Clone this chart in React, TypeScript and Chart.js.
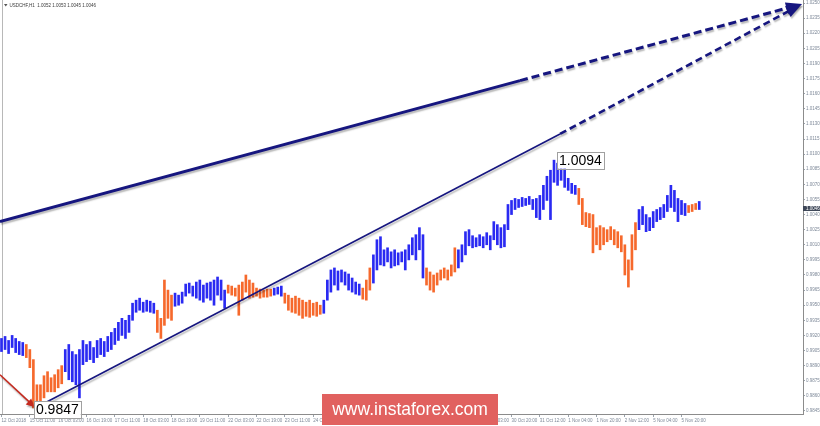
import React, { useEffect, useRef } from "react";
import { Chart, registerables } from "chart.js";

Chart.register(...registerables);

const symbolTitle = "USDCHF,H1  1.0052 1.0053 1.0045 1.0046";
const lastClose = 1.0046;

const timeLabels = [
  "12 Oct 2018", "15 Oct 11:00", "16 Oct 03:00", "16 Oct 19:00", "17 Oct 11:00",
  "18 Oct 03:00", "18 Oct 19:00", "19 Oct 11:00", "22 Oct 03:00", "22 Oct 19:00",
  "23 Oct 11:00", "24 Oct 03:00", "24 Oct 19:00", "25 Oct 11:00", "26 Oct 03:00",
  "26 Oct 19:00", "29 Oct 11:00", "30 Oct 03:00", "30 Oct 20:00", "31 Oct 12:00",
  "1 Nov 04:00", "1 Nov 20:00", "2 Nov 12:00", "5 Nov 04:00", "5 Nov 20:00",
];
const hoursPerLabel = 16;
const hoursPerBar = 2;

const priceTicks = [
  0.9845, 0.986, 0.9875, 0.989, 0.9905, 0.992, 0.9935, 0.995, 0.9965, 0.998,
  0.9995, 1.001, 1.0025, 1.004, 1.0055, 1.007, 1.0085, 1.01, 1.0115, 1.013,
  1.0145, 1.016, 1.0175, 1.019, 1.0205, 1.022, 1.0235, 1.025,
];

const highs = [
  0.9917, 0.9919, 0.9915, 0.992, 0.9917, 0.9914, 0.9913, 0.9911, 0.9906, 0.9896,
  0.9871, 0.9871, 0.988, 0.9884, 0.9878, 0.9881, 0.9886, 0.989, 0.9906, 0.9911,
  0.9904, 0.9901, 0.9906, 0.9915, 0.9911, 0.9914, 0.9908, 0.9915, 0.9917, 0.9914,
  0.9919, 0.9923, 0.9927, 0.9933, 0.9937, 0.9935, 0.994, 0.9952, 0.9955, 0.9957,
  0.9953, 0.9955, 0.9954, 0.9952, 0.9945, 0.9937, 0.9975, 0.9965, 0.996, 0.9962,
  0.996, 0.9963, 0.9971, 0.9972, 0.9969, 0.9973, 0.9975, 0.997, 0.9972, 0.9973,
  0.9975, 0.9978, 0.9975, 0.9965, 0.997, 0.9969, 0.9967, 0.997, 0.9973, 0.998,
  0.9975, 0.9972, 0.9967, 0.9966, 0.9965, 0.9966, 0.9966, 0.9967, 0.9968, 0.9969,
  0.9962, 0.996, 0.9957, 0.9959, 0.9957, 0.9955, 0.9953, 0.9955, 0.9952, 0.9953,
  0.995, 0.9955, 0.9975, 0.9985, 0.9987, 0.9984, 0.9985, 0.9983, 0.9981, 0.9977,
  0.9973, 0.9971, 0.9967, 0.9975, 0.9987, 1.0, 1.0015, 1.0018, 1.0005, 1.0007,
  1.0003, 1.0005, 1.0002, 1.0003, 1.0005, 1.001, 1.0017, 1.002, 1.0027, 1.002,
  0.9987, 0.9983, 0.998, 0.9982, 0.9985, 0.9987, 0.9985, 0.999, 1.0007, 1.0005,
  1.001, 1.0023, 1.0025, 1.0019, 1.0017, 1.002, 1.0018, 1.0022, 1.0019, 1.0033,
  1.003, 1.0027, 1.003, 1.005, 1.0054, 1.0056, 1.0055, 1.0057, 1.0056, 1.0058,
  1.0055, 1.0056, 1.0059, 1.0069, 1.0078, 1.0084, 1.0094, 1.0091, 1.0089, 1.0086,
  1.0076, 1.0071, 1.0069, 1.0066, 1.0056, 1.0042, 1.0041, 1.004, 1.0027, 1.0029,
  1.0027, 1.0025, 1.0028, 1.0025, 1.0023, 1.0019, 1.001, 0.9995, 1.002, 1.0032,
  1.0045, 1.0048, 1.004, 1.0037, 1.0043, 1.0045, 1.0047, 1.005, 1.0059, 1.0069,
  1.0064, 1.0056, 1.0054, 1.0051, 1.0049, 1.005, 1.0051, 1.0053,
];

const lows = [
  0.9904, 0.9906, 0.9902, 0.9908, 0.9903, 0.9901, 0.99, 0.9898, 0.9888, 0.9848,
  0.9847, 0.9851, 0.9858, 0.9864, 0.9864, 0.9864, 0.9868, 0.9872, 0.9884, 0.9876,
  0.9874, 0.9871, 0.9858, 0.9891, 0.9894, 0.9896, 0.9893, 0.9898, 0.9901, 0.9899,
  0.9904, 0.9906, 0.9911, 0.9915, 0.992, 0.9917, 0.9923, 0.9935, 0.9943, 0.9945,
  0.9943, 0.9944, 0.9943, 0.9942, 0.9923, 0.9917, 0.993, 0.9937, 0.9935, 0.9949,
  0.995, 0.9952, 0.9959, 0.9962, 0.9959, 0.9957, 0.9955, 0.9953, 0.9957, 0.9955,
  0.995, 0.996, 0.9955, 0.9947, 0.9962, 0.996, 0.9959, 0.994, 0.9955, 0.9963,
  0.9957, 0.9958, 0.9959, 0.9957, 0.9958, 0.9958, 0.9959, 0.996, 0.9961, 0.9959,
  0.9952, 0.9945, 0.9943, 0.9942, 0.994, 0.9937, 0.9939, 0.9938, 0.994, 0.9939,
  0.9941, 0.9942, 0.9955, 0.9963, 0.997, 0.9965, 0.9973, 0.997, 0.9965, 0.9963,
  0.9961, 0.996, 0.9956, 0.9955, 0.9965, 0.9972, 0.9985, 0.999, 0.9989, 0.9993,
  0.9987, 0.9989, 0.999, 0.9993, 0.9985, 0.9995, 1.0, 0.9995, 1.0005, 0.9977,
  0.997, 0.9965, 0.9963, 0.997, 0.9975, 0.9977, 0.9975, 0.9979, 0.9983, 0.9987,
  0.9993, 1.0, 1.0009, 1.0007, 1.0008, 1.0009, 1.0007, 1.001, 1.0005, 1.0015,
  1.001, 1.0007, 1.0008, 1.0025, 1.004, 1.0045, 1.0047, 1.0048, 1.0049, 1.005,
  1.0045, 1.0037, 1.0035, 1.0045, 1.0054, 1.0035, 1.0072, 1.0069, 1.0074, 1.0067,
  1.0064, 1.0061, 1.006, 1.005, 1.003, 1.0028, 1.0027, 1.0002, 1.001, 1.0005,
  1.001, 1.0013, 1.0015, 1.001, 1.0007, 1.0003, 0.998, 0.9968, 0.9985, 1.0005,
  1.0025, 1.003, 1.0023, 1.0024, 1.0027, 1.0033, 1.0035, 1.0037, 1.0043, 1.0047,
  1.0043, 1.0033, 1.004, 1.0039, 1.0042, 1.0043, 1.0045, 1.0045,
];

// bar index where each wave starts; waves alternate up (blue) / down (orange)
const waveStarts = [0, 7, 18, 44, 49, 64, 77, 80, 91, 102, 105, 120, 129, 163, 180, 194, 197];

// arrows as [hour, price] points
const arrowLong = [[-0.85, 1.0033], [292.8, 1.0173], [452, 1.0249]];
const arrowTrend = [[19, 0.9848], [315.4, 1.012], [452, 1.0249]];
const arrowRed = [[-0.85, 0.9881], [18.5, 0.9849]];

// annotated extremes: [hour, price, text]
const peakLabel = [312, 1.0094, "1.0094"];
const lowLabel = [20, 0.9847, "0.9847"];

const BLUE = "#2a2af2";
const ORANGE = "#f6692c";
const NAVY = "#16167f";
const FONT = '"Liberation Sans", Arial, sans-serif';

function barColor(i: number) {
  let seg = 0;
  for (let k = 0; k < waveStarts.length; k++) if (i >= waveStarts[k]) seg = k;
  return seg % 2 === 0 ? BLUE : ORANGE;
}

function head(ctx: CanvasRenderingContext2D, fx: number, fy: number, tx: number, ty: number, len: number, half: number, color: string) {
  const a = Math.atan2(ty - fy, tx - fx);
  const bx = tx - len * Math.cos(a);
  const by = ty - len * Math.sin(a);
  ctx.fillStyle = color;
  ctx.beginPath();
  ctx.moveTo(tx, ty);
  ctx.lineTo(bx - half * Math.sin(a), by + half * Math.cos(a));
  ctx.lineTo(bx + half * Math.sin(a), by - half * Math.cos(a));
  ctx.closePath();
  ctx.fill();
}

function priceBox(ctx: CanvasRenderingContext2D, text: string, left: number, cy: number) {
  ctx.font = `14px ${FONT}`;
  const w = ctx.measureText(text).width;
  ctx.fillStyle = "#ffffff";
  ctx.fillRect(left, cy - 8.5, w + 4, 17);
  ctx.strokeStyle = "#a0a0a0";
  ctx.lineWidth = 1;
  ctx.strokeRect(Math.round(left) + 0.5, Math.round(cy - 8.5) + 0.5, Math.round(w + 4), 17);
  ctx.fillStyle = "#000000";
  ctx.textBaseline = "middle";
  ctx.textAlign = "left";
  ctx.fillText(text, left + 2, cy + 1);
}

const overlay = {
  id: "overlay",
  beforeDatasetsDraw(chart: any) {
    const { ctx, chartArea } = chart;
    ctx.save();
    ctx.strokeStyle = "#b8b8b8";
    ctx.lineWidth = 1;
    ctx.beginPath();
    ctx.moveTo(2.5, chartArea.top);
    ctx.lineTo(2.5, chartArea.bottom);
    ctx.stroke();
    ctx.restore();
  },
  afterDatasetsDraw(chart: any) {
    const { ctx } = chart;
    const xs = chart.scales.x;
    const ys = chart.scales.y;
    const P = (p: number[]) => [xs.getPixelForValue(p[0]), ys.getPixelForValue(p[1])];
    ctx.save();
    ctx.lineCap = "butt";
    ctx.shadowColor = "rgba(0,0,0,0.28)";
    ctx.shadowOffsetX = 1;
    ctx.shadowOffsetY = 2;
    ctx.shadowBlur = 1.5;

    // red arrow
    const r0 = P(arrowRed[0]);
    const r1 = P(arrowRed[1]);
    ctx.strokeStyle = "#c42a1f";
    ctx.lineWidth = 1.6;
    ctx.beginPath();
    ctx.moveTo(r0[0], r0[1]);
    ctx.lineTo(r1[0] - 4, r1[1] - 4);
    ctx.stroke();
    head(ctx, r0[0], r0[1], r1[0], r1[1], 8, 4, "#c42a1f");

    const drawArrow = (pts: number[][], solidW: number, dashW: number, dash: number[]) => {
      const a = P(pts[0]);
      const b = P(pts[1]);
      const c = P(pts[2]);
      ctx.strokeStyle = NAVY;
      ctx.setLineDash([]);
      ctx.lineWidth = solidW;
      ctx.beginPath();
      ctx.moveTo(a[0], a[1]);
      ctx.lineTo(b[0], b[1]);
      ctx.stroke();
      const ang = Math.atan2(c[1] - b[1], c[0] - b[0]);
      ctx.setLineDash(dash);
      ctx.lineWidth = dashW;
      ctx.beginPath();
      ctx.moveTo(b[0], b[1]);
      ctx.lineTo(c[0] - 12 * Math.cos(ang), c[1] - 12 * Math.sin(ang));
      ctx.stroke();
      ctx.setLineDash([]);
    };
    drawArrow(arrowLong, 3, 3, [8, 4]);
    drawArrow(arrowTrend, 1.6, 2.6, [7, 4]);
    const t = P(arrowLong[2]);
    const l1 = P(arrowLong[1]);
    const l2 = P(arrowTrend[1]);
    head(ctx, l1[0], l1[1], t[0], t[1], 16, 6, NAVY);
    head(ctx, l2[0], l2[1], t[0], t[1], 16, 6, NAVY);
    ctx.restore();
  },
  afterDraw(chart: any) {
    const { ctx } = chart;
    const xs = chart.scales.x;
    const ys = chart.scales.y;
    ctx.save();

    // extreme labels
    priceBox(ctx, peakLabel[2] as string, xs.getPixelForValue(peakLabel[0]) + 3, ys.getPixelForValue(peakLabel[1]));
    priceBox(ctx, lowLabel[2] as string, xs.getPixelForValue(lowLabel[0]) - 3, ys.getPixelForValue(lowLabel[1]) + 0.5);

    // current price tag
    const yc = ys.getPixelForValue(lastClose);
    ctx.fillStyle = "#3f4859";
    ctx.fillRect(ys.left, yc - 2.5, ys.width, 5);
    ctx.fillStyle = "#ffffff";
    ctx.font = `4.5px ${FONT}`;
    ctx.textBaseline = "middle";
    ctx.textAlign = "left";
    ctx.fillText(lastClose.toFixed(4), ys.left + 3, yc + 0.3);

    // title
    ctx.fillStyle = "#555";
    ctx.beginPath();
    ctx.moveTo(4, 4);
    ctx.lineTo(7.5, 4);
    ctx.lineTo(5.75, 6.5);
    ctx.closePath();
    ctx.fill();
    ctx.fillStyle = "#3a3a3a";
    ctx.font = `4.5px ${FONT}`;
    ctx.fillText(symbolTitle, 9.5, 5.5);

    // watermark
    ctx.fillStyle = "#e1615f";
    ctx.fillRect(322, 394, 176, 31);
    ctx.fillStyle = "#ffffff";
    ctx.font = `17.5px ${FONT}`;
    ctx.textAlign = "center";
    ctx.textBaseline = "middle";
    ctx.fillText("www.instaforex.com", 410, 410);
    ctx.restore();
  },
};

export default function App() {
  const ref = useRef<HTMLCanvasElement | null>(null);
  useEffect(() => {
    if (!ref.current) return;
    const bars = highs.map((h, i) => ({ x: i * hoursPerBar, y: [lows[i], h] }));
    const colors = highs.map((_, i) => barColor(i));
    const chart = new Chart(ref.current, {
      type: "bar",
      data: {
        datasets: [
          {
            data: bars as any,
            backgroundColor: colors,
            borderWidth: 0,
            barThickness: 2,
            grouped: false,
          } as any,
        ],
      },
      options: {
        responsive: false,
        animation: false,
        devicePixelRatio: 1,
        layout: { padding: 0 },
        events: [],
        plugins: {
          legend: { display: false },
          tooltip: { enabled: false },
          title: { display: false },
        },
        scales: {
          x: {
            type: "linear",
            min: -0.85,
            max: 452.6,
            offset: false,
            afterBuildTicks: (s: any) => {
              s.ticks = timeLabels.map((_, k) => ({ value: k * hoursPerLabel }));
            },
            afterFit: (s: any) => {
              s.height = 12;
              s.paddingLeft = 0;
              s.paddingRight = 0;
            },
            grid: {
              display: true,
              drawOnChartArea: false,
              drawTicks: true,
              tickLength: 3,
              color: "#9aa3ad",
              offset: false,
            },
            border: { display: true, color: "#8c8c8c" },
            ticks: {
              autoSkip: false,
              maxRotation: 0,
              minRotation: 0,
              align: "start",
              padding: 1,
              color: "#7d8898",
              font: { size: 4.5, family: FONT },
              callback: (v: any) => timeLabels[Math.round(Number(v) / hoursPerLabel)] ?? "",
            },
          },
          y: {
            type: "linear",
            position: "right",
            min: 0.9842,
            max: 1.0253,
            afterBuildTicks: (s: any) => {
              s.ticks = priceTicks.map((v) => ({ value: v }));
            },
            afterFit: (s: any) => {
              s.width = 17;
              s.paddingTop = 0;
              s.paddingBottom = 0;
            },
            grid: {
              display: true,
              drawOnChartArea: false,
              drawTicks: true,
              tickLength: 2,
              color: "#9aa3ad",
            },
            border: { display: true, color: "#8c8c8c" },
            ticks: {
              autoSkip: false,
              padding: 1,
              color: "#7d8898",
              font: { size: 4.5, family: FONT },
              callback: (v: any) => Number(v).toFixed(4),
            },
          },
        },
      } as any,
      plugins: [overlay as any],
    });
    return () => chart.destroy();
  }, []);
  return (
    <div style={{ position: "absolute", left: 0, top: 0, width: 820, height: 426, background: "#fff" }}>
      <canvas ref={ref} width={820} height={426} style={{ display: "block" }} />
    </div>
  );
}
